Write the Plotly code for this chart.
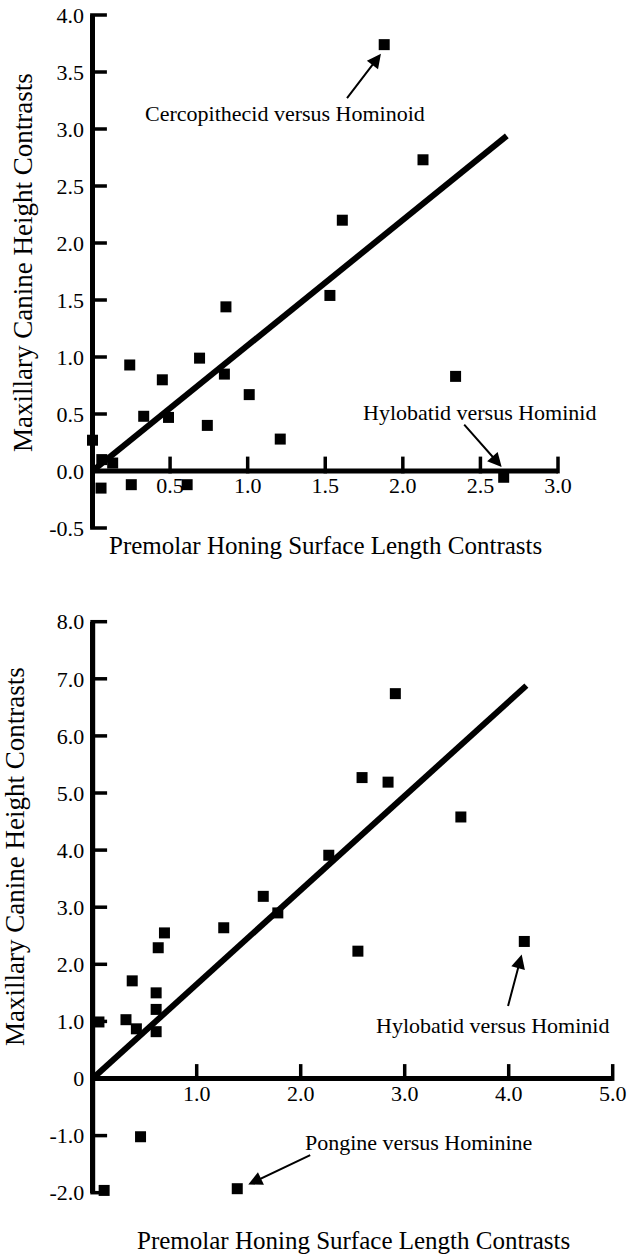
import plotly.graph_objects as go

# ---------------- data: top panel ----------------
top_x = [0.00, 0.06, 0.13, 0.055, 0.25, 0.24, 0.33, 0.45, 0.49, 0.61, 0.69, 0.74,
         0.85, 0.86, 1.01, 1.21, 1.53, 1.61, 1.88, 2.13, 2.34, 2.65]
top_y = [0.27, 0.10, 0.07, -0.15, -0.12, 0.93, 0.48, 0.80, 0.47, -0.12, 0.99, 0.40,
         0.85, 1.44, 0.67, 0.28, 1.54, 2.20, 3.74, 2.73, 0.83, -0.055]
top_fit_x = [0.0, 2.67]
top_fit_y = [0.0, 2.94]
top_xticks = [0.5, 1.0, 1.5, 2.0, 2.5, 3.0]
top_xticktext = ["0.5", "1.0", "1.5", "2.0", "2.5", "3.0"]
top_yticks = [-0.5, 0.0, 0.5, 1.0, 1.5, 2.0, 2.5, 3.0, 3.5, 4.0]
top_yticktext = ["-0.5", "0.0", "0.5", "1.0", "1.5", "2.0", "2.5", "3.0", "3.5", "4.0"]

# ---------------- data: bottom panel ----------------
bot_x = [0.06, 0.32, 0.42, 0.38, 0.61, 0.61, 0.61, 0.63, 0.69, 1.26, 1.78, 1.64,
         0.46, 0.11, 1.39, 2.91, 2.59, 2.84, 3.54, 2.27, 2.55, 4.15]
bot_y = [0.99, 1.03, 0.87, 1.71, 1.50, 1.21, 0.82, 2.29, 2.55, 2.64, 2.90, 3.19,
         -1.02, -1.96, -1.93, 6.74, 5.27, 5.19, 4.58, 3.91, 2.23, 2.40]
bot_fit_x = [0.0, 4.17]
bot_fit_y = [0.0, 6.88]
bot_xticks = [1.0, 2.0, 3.0, 4.0, 5.0]
bot_xticktext = ["1.0", "2.0", "3.0", "4.0", "5.0"]
bot_yticks = [-2, -1, 0, 1, 2, 3, 4, 5, 6, 7, 8]
bot_yticktext = ["-2.0", "-1.0", "0", "1.0", "2.0", "3.0", "4.0", "5.0", "6.0", "7.0", "8.0"]

x_title = "Premolar Honing Surface Length Contrasts"
y_title = "Maxillary Canine Height Contrasts"

FONT = "Liberation Serif, Times New Roman, serif"
W, H = 628, 1256
TICKLEN = 12   # px
TICKW = 3.5    # px
AXISW = 5      # px

def fx(px):
    return px / W

def fy(py):
    return 1 - py / H

top_xr = [0, 3.0]
top_yr = [-0.5, 4.0]
top_dom_x = [fx(92.5), fx(558)]
top_dom_y = [fy(528), fy(15)]
top_xpos = top_dom_y[0] + (top_dom_y[1] - top_dom_y[0]) * (0 - top_yr[0]) / (top_yr[1] - top_yr[0])

bot_xr = [0, 5.0]
bot_yr = [-2.0, 8.0]
bot_dom_x = [fx(92.7), fx(612.7)]
bot_dom_y = [fy(1192.7), fy(621.7)]
bot_xpos = bot_dom_y[0] + (bot_dom_y[1] - bot_dom_y[0]) * (0 - bot_yr[0]) / (bot_yr[1] - bot_yr[0])

fig = go.Figure()

def add_axes_and_ticks(xa, ya, xr, yr, dom_x, dom_y, xt, yt):
    px_per_x = (dom_x[1] - dom_x[0]) * W / (xr[1] - xr[0])
    px_per_y = (dom_y[1] - dom_y[0]) * H / (yr[1] - yr[0])
    half_dx = TICKLEN / 2 / px_per_x
    half_dy = TICKLEN / 2 / px_per_y
    # axis lines (x axis along y = 0, y axis along x = 0)
    fig.add_trace(go.Scatter(x=[xr[0], xr[1], None, 0, 0], y=[0, 0, None, yr[0], yr[1]],
                             mode="lines", line=dict(color="black", width=AXISW),
                             xaxis=xa, yaxis=ya, showlegend=False,
                             cliponaxis=False, hoverinfo="skip"))
    # tick marks drawn as line markers: upward on the x axis, rightward on the y axis
    fig.add_trace(go.Scatter(x=xt, y=[half_dy] * len(xt), mode="markers",
                             marker=dict(symbol="line-ns", size=TICKLEN, color="black",
                                         line=dict(width=TICKW, color="black")),
                             xaxis=xa, yaxis=ya, showlegend=False,
                             cliponaxis=False, hoverinfo="skip"))
    fig.add_trace(go.Scatter(x=[half_dx] * len(yt), y=yt, mode="markers",
                             marker=dict(symbol="line-ew", size=TICKLEN, color="black",
                                         line=dict(width=TICKW, color="black")),
                             xaxis=xa, yaxis=ya, showlegend=False,
                             cliponaxis=False, hoverinfo="skip"))

add_axes_and_ticks("x", "y", top_xr, top_yr, top_dom_x, top_dom_y, top_xticks, top_yticks)
add_axes_and_ticks("x2", "y2", bot_xr, bot_yr, bot_dom_x, bot_dom_y, bot_xticks, bot_yticks)

fig.add_trace(go.Scatter(x=top_fit_x, y=top_fit_y, mode="lines",
                         line=dict(color="black", width=6), xaxis="x", yaxis="y",
                         showlegend=False, cliponaxis=False, hoverinfo="skip"))
fig.add_trace(go.Scatter(x=top_x, y=top_y, mode="markers",
                         marker=dict(symbol="square", size=11, color="black"),
                         xaxis="x", yaxis="y", showlegend=False, cliponaxis=False))
fig.add_trace(go.Scatter(x=bot_fit_x, y=bot_fit_y, mode="lines",
                         line=dict(color="black", width=6), xaxis="x2", yaxis="y2",
                         showlegend=False, cliponaxis=False, hoverinfo="skip"))
fig.add_trace(go.Scatter(x=bot_x, y=bot_y, mode="markers",
                         marker=dict(symbol="square", size=11, color="black"),
                         xaxis="x2", yaxis="y2", showlegend=False, cliponaxis=False))

tickfont = dict(family=FONT, size=22, color="black")

def xaxis(rng, dom, pos, vals, text):
    return dict(range=rng, domain=dom, anchor="free", position=pos,
                showline=False, ticks="",
                tickmode="array", tickvals=vals, ticktext=text, tickfont=tickfont,
                ticklabelstandoff=-1,
                showgrid=False, zeroline=False, fixedrange=True)

def yaxis(rng, dom, anchor, vals, text):
    return dict(range=rng, domain=dom, anchor=anchor,
                showline=True, linewidth=3, linecolor="black", ticks="",
                tickmode="array", tickvals=vals, ticktext=text, tickfont=tickfont,
                ticklabelstandoff=1,
                showgrid=False, zeroline=False, fixedrange=True)

ann_font = dict(family=FONT, size=22, color="black")
title_font = dict(family=FONT, size=25, color="black")
ytitle_font = dict(family=FONT, size=27, color="black")

annotations = [
    dict(text="Cercopithecid versus Hominoid", x=1.24, y=3.135, xref="x", yref="y",
         showarrow=False, font=ann_font),
    dict(text="", x=1.859, y=3.66, ax=1.633, ay=3.257, xref="x", yref="y",
         axref="x", ayref="y", showarrow=True, arrowhead=2, arrowsize=1.4,
         arrowwidth=2, arrowcolor="black"),
    dict(text="Hylobatid versus Hominid", x=2.497, y=0.517, xref="x", yref="y",
         showarrow=False, font=ann_font),
    dict(text="", x=2.637, y=0.035, ax=2.387, ay=0.42, xref="x", yref="y",
         axref="x", ayref="y", showarrow=True, arrowhead=2, arrowsize=1.4,
         arrowwidth=2, arrowcolor="black"),
    dict(text="Hylobatid versus Hominid", x=3.842, y=0.928, xref="x2", yref="y2",
         showarrow=False, font=ann_font),
    dict(text="", x=4.125, y=2.17, ax=3.99, ay=1.243, xref="x2", yref="y2",
         axref="x2", ayref="y2", showarrow=True, arrowhead=2, arrowsize=1.4,
         arrowwidth=2, arrowcolor="black"),
    dict(text="Pongine versus Hominine", x=3.128, y=-1.116, xref="x2", yref="y2",
         showarrow=False, font=ann_font),
    dict(text="", x=1.496, y=-1.856, ax=2.106, ay=-1.331, xref="x2", yref="y2",
         axref="x2", ayref="y2", showarrow=True, arrowhead=2, arrowsize=1.4,
         arrowwidth=2, arrowcolor="black"),
    dict(text=x_title, x=fx(325), y=fy(545), xref="paper", yref="paper",
         showarrow=False, font=title_font, xanchor="center", yanchor="middle"),
    dict(text=y_title, x=fx(23), y=fy(263), xref="paper", yref="paper",
         showarrow=False, font=ytitle_font, textangle=-90,
         xanchor="center", yanchor="middle"),
    dict(text=x_title, x=fx(353), y=fy(1240), xref="paper", yref="paper",
         showarrow=False, font=title_font, xanchor="center", yanchor="middle"),
    dict(text=y_title, x=fx(15), y=fy(857), xref="paper", yref="paper",
         showarrow=False, font=ytitle_font, textangle=-90,
         xanchor="center", yanchor="middle"),
]

fig.update_layout(
    template="none",
    width=W, height=H,
    margin=dict(l=0, r=0, t=0, b=0),
    paper_bgcolor="white", plot_bgcolor="rgba(0,0,0,0)",
    xaxis=xaxis(top_xr, top_dom_x, top_xpos, top_xticks, top_xticktext),
    yaxis=yaxis(top_yr, top_dom_y, "x", top_yticks, top_yticktext),
    xaxis2=xaxis(bot_xr, bot_dom_x, bot_xpos, bot_xticks, bot_xticktext),
    yaxis2=yaxis(bot_yr, bot_dom_y, "x2", bot_yticks, bot_yticktext),
    annotations=annotations,
    font=dict(family=FONT, color="black"),
    showlegend=False,
)

fig.write_html("out.html", config={"displayModeBar": False},
               post_script="document.body.style.margin='0';document.body.style.overflow='hidden';")
